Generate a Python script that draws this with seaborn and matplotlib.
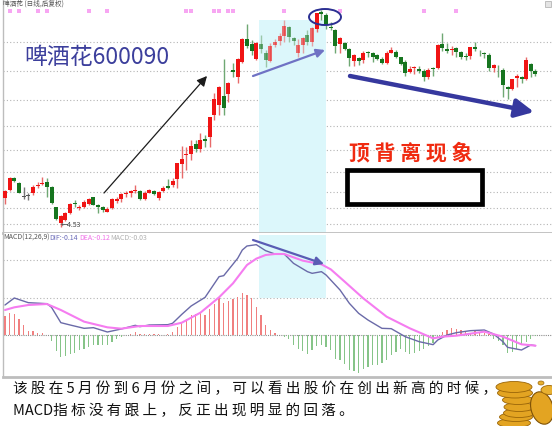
import numpy as np
import matplotlib
matplotlib.use("Agg")
import matplotlib.pyplot as plt
from matplotlib.patches import Ellipse, Rectangle, FancyArrowPatch
import seaborn as sns

# candle values, rows counted from the top of the panel (3 rows = 1 px)
body_top = [572, 533, 533, 548, 589, 586, 562, 555, 548, 545,
            560, 622, 648, 640, 613, 610, 620, 606, 598, 592,
            616, 621, 626, 598, 597, 583, 578, 574, 570, 573,
            578, 571, 573, 576, 564, 558, 543, 490, 477, 463,
            437, 433, 420, 418, 352, 298, 260, 288, 248, 211,
            177, 118, 118, 132, 128, 133, 158, 138, 125, 107,
            78, 80, 115, 135, 113, 105, 85, 40, 35, 45,
            80, 90, 115, 130, 147, 165, 175, 160, 156, 160,
            165, 176, 158, 151, 157, 172, 185, 208, 200, 208,
            212, 210, 204, 135, 133, 148, 147, 145, 155, 167,
            142, 140, 155, 159, 165, 196, 197, 210, 260, 238,
            228, 230, 180, 192, 212]
body_bottom = [595, 570, 543, 578, 592, 589, 578, 558, 551, 560,
               610, 658, 668, 660, 640, 613, 623, 622, 612, 614,
               621, 630, 635, 625, 604, 597, 582, 578, 572, 596,
               597, 578, 582, 594, 572, 563, 555, 538, 492, 466,
               462, 447, 447, 423, 412, 345, 315, 325, 282, 216,
               230, 185, 138, 153, 178, 148, 180, 183, 135, 122,
               107, 112, 122, 158, 135, 125, 125, 88, 43, 75,
               85, 138, 132, 146, 175, 183, 182, 180, 159, 172,
               176, 190, 188, 158, 172, 192, 218, 216, 205, 213,
               230, 232, 208, 203, 143, 152, 150, 157, 170, 172,
               168, 148, 157, 163, 203, 205, 199, 255, 268, 266,
               235, 237, 237, 213, 222]
wick_high = [570, 530, 530, 545, 562, 578, 555, 545, 530, 535,
             558, 620, 645, 636, 610, 600, 616, 600, 595, 590,
             612, 618, 622, 595, 590, 578, 572, 570, 555, 570,
             574, 568, 570, 572, 558, 537, 535, 488, 437, 440,
             420, 420, 400, 405, 350, 280, 258, 178, 245, 190,
             175, 115, 72, 120, 125, 105, 150, 130, 118, 100,
             60, 78, 112, 118, 110, 90, 82, 38, 30, 40,
             65, 88, 112, 125, 145, 162, 172, 152, 152, 155,
             162, 172, 153, 142, 150, 170, 180, 197, 197, 197,
             207, 205, 202, 133, 100, 128, 138, 140, 152, 160,
             140, 126, 150, 155, 160, 192, 195, 205, 258, 236,
             222, 228, 170, 190, 208]
wick_low = [612, 572, 545, 580, 597, 600, 585, 565, 556, 590,
            612, 660, 680, 662, 642, 622, 630, 625, 614, 616,
            640, 635, 637, 628, 608, 605, 590, 590, 578, 600,
            600, 580, 584, 600, 576, 566, 560, 565, 535, 510,
            480, 457, 455, 440, 440, 360, 345, 345, 305, 230,
            250, 190, 145, 165, 180, 160, 200, 185, 140, 135,
            125, 125, 135, 170, 160, 135, 138, 95, 60, 88,
            90, 160, 160, 150, 198, 197, 195, 190, 172, 185,
            180, 193, 192, 160, 175, 195, 228, 220, 222, 220,
            242, 238, 228, 208, 152, 158, 165, 170, 178, 180,
            178, 152, 168, 175, 212, 216, 232, 292, 298, 270,
            262, 248, 240, 230, 228]
candle_kind = ("rrggkkrrrg" "ggrrrgrrrg" "ggrrrrrrrg" "rrgrrgrrrr" "rgrgrrrgrg" "rrggrggrrr"
               "rggrrgrrgg" "ggrggrgrgg" "ggrrgggrrg" "grgrggrggg" "rggggrgggr" "rgrgg")
price_grid = [127, 213, 300, 378, 450, 515, 575, 625, 672]
signal_marks = [1, 3, 7, 9, 18, 22, 39, 40, 45, 46, 48, 49, 60, 72, 90, 97]

macd_hist = [58, 68, 65, 48, 30, 14, 12, 8, 6, 1,
             -18, -48, -65, -62, -55, -52, -45, -40, -35, -30,
             -28, -30, -28, -20, -12, -4, 0, 4, 10, 4,
             3, 4, 4, 3, 2, 4, 10, 25, 40, 50,
             60, 65, 68, 60, 78, 95, 115, 97, 103, 108,
             115, 127, 120, 112, 85, 62, 30, 15, 6, 1,
             -4, -12, -28, -42, -47, -57, -45, -33, -28, -35,
             -45, -70, -75, -85, -103, -108, -112, -100, -95, -90,
             -88, -82, -75, -58, -50, -42, -50, -55, -52, -48,
             -40, -32, -22, -5, 10, 17, 22, 20, 15, 10,
             6, 12, 10, 7, 4, -12, -18, -30, -52, -50,
             -42, -25, -20, -10, -3]
dif_idx = [0, 2, 5, 9, 10, 12, 14, 17, 19, 22, 25, 28, 29, 31, 35, 36, 38, 40, 43, 46,
           47, 50, 51, 52, 54, 56, 58, 60, 62, 65, 66, 68, 69, 72, 74, 76, 78, 81, 83, 86,
           89, 92, 93, 95, 97, 100, 103, 105, 107, 108, 111, 113, 114]
dif_val = [91, 112, 98, 95, 84, 38, 31, 21, 23, 10, 19, 30, 26, 31, 32, 36, 63, 88, 114, 176,
           179, 231, 256, 268, 272, 254, 244, 244, 216, 191, 186, 191, 181, 136, 96, 66, 46, 21, 20, -4,
           -19, -28, -14, 1, 8, 14, 16, 4, -19, -36, -44, -29, -31]
dea_idx = [0, 2, 5, 9, 12, 17, 22, 25, 29, 35, 38, 42, 46, 49, 52, 54, 56, 58,
           60, 64, 68, 70, 73, 77, 82, 87, 92, 94, 97, 103, 107, 111, 114]
dea_val = [76, 84, 91, 94, 76, 41, 24, 20, 28, 28, 38, 68, 114, 156, 211, 230, 241, 244,
           244, 224, 213, 198, 161, 111, 56, 21, -9, -4, -1, 11, -4, -27, -31]
macd_grid = [226, 111]

title_text = "啤酒花 (日线,后复权)"
name_text = "啤酒花600090"
label_text = "顶 背 离 现 象"
caption_1 = "该股在5月份到6月份之间，可以看出股价在创出新高的时候，"
caption_2 = "指标没有跟上，反正出现明显的回落。"

W, H = 552, 426
sns.set_theme(style="white")
plt.rcParams["font.family"] = ["Noto Sans CJK SC", "DejaVu Sans"]

fig = plt.figure(figsize=(W / 100, H / 100), dpi=100, facecolor="white")


def panel(left, top, right, bottom):
    return fig.add_axes([left / W, 1 - bottom / H, (right - left) / W, (bottom - top) / H])


idx = np.arange(len(body_top))
xlim = (-0.43, 117.55)
GRID = "#b4b4b4"
EDGE = "#bdbdbd"

# --- price panel ---
ax = panel(3, 0, 552, 233)
ax.set_xlim(*xlim)
ax.set_ylim(699, 0)
for row in price_grid:
    ax.axhline(row, color=GRID, lw=0.8, ls=(0, (1, 2)), zorder=1)
ax.add_patch(Rectangle((54.65, 60), 14.35, 639, color="#dcf7fb", lw=0, zorder=2))

colours = {"r": "#f01414", "g": "#16751f", "k": "#555555"}
wick_colours = {"r": "#e86a6a", "g": "#6fa873", "k": "#777777"}
for i in idx:
    kind = candle_kind[i]
    faded = 55 <= i <= 66
    alpha = 0.6 if faded else 1
    ax.vlines(i, wick_high[i], wick_low[i], color=wick_colours[kind], lw=1, alpha=alpha, zorder=3)
    ax.bar(i, body_bottom[i] - body_top[i], bottom=body_top[i], width=0.86,
           color=colours[kind], lw=0, alpha=alpha, zorder=4)
ax.scatter(signal_marks, [33] * len(signal_marks), marker="s", s=5, color="#f7a6f2", lw=0, zorder=5)

# --- MACD panel ---
ax2 = panel(3, 233, 552, 377)
ax2.set_xlim(*xlim)
ax2.set_ylim(-125, 307)
for val in macd_grid:
    ax2.axhline(val, color=GRID, lw=0.8, ls=(0, (1, 2)), zorder=1)
ax2.axhline(0, color="#8c8c8c", lw=0.8, ls=(0, (1, 1)), zorder=1)
ax2.add_patch(Rectangle((54.65, 111), 14.35, 190, color="#dcf7fb", lw=0, zorder=2))
hist = np.array(macd_hist)
ax2.bar(idx, hist, width=0.27, color=np.where(hist >= 0, "#f07f7f", "#86c488"), lw=0, zorder=3)
sns.lineplot(x=dif_idx, y=dif_val, color="#6a6aa8", linewidth=1, ax=ax2, zorder=4)
sns.lineplot(x=dea_idx, y=dea_val, color="#f57cf0", linewidth=1.5, ax=ax2, zorder=5)

for a in (ax, ax2):
    a.set_xticks([])
    a.set_yticks([])
    a.set_xlabel("")
    a.set_ylabel("")
    for side in ("top", "right"):
        a.spines[side].set_visible(False)
    a.spines["left"].set_color(EDGE)
    a.spines["bottom"].set_color(EDGE)
    a.spines["left"].set_linewidth(1)
    a.spines["bottom"].set_linewidth(2)

# --- annotations, in picture pixels ---
over = fig.add_axes([0, 0, 1, 1], zorder=10)
over.set_xlim(0, W)
over.set_ylim(H, 0)
over.axis("off")
over.patch.set_alpha(0)

over.text(3, 4, title_text, fontsize=4.8, color="#555555", va="center")
over.text(24, 58, name_text, fontsize=16.5, color="#3c3f9c", va="center")
over.text(61, 225, "←4.53", fontsize=5, color="#444444", va="center")
over.text(411, 153, label_text, fontsize=15, color="#f02a10", weight="bold", ha="center", va="center")

over.text(3, 238, "MACD(12,26,9)", fontsize=5, color="#555555", va="center")
over.text(49, 238, "DIF:-0.14", fontsize=5, color="#6a6ab8", va="center")
over.text(79, 238, "DEA:-0.12", fontsize=5, color="#f070e8", va="center")
over.text(110, 238, "MACD:-0.03", fontsize=5, color="#b0b0b0", va="center")

over.text(13, 389, " ".join(caption_1), fontsize=10.5, color="#111111", va="center")
over.text(13, 411, "MACD" + " ".join(caption_2), fontsize=10.5, color="#111111", va="center")


def arrow(start, end, colour, width, head):
    over.add_patch(FancyArrowPatch(start, end, arrowstyle=f"-|>,head_length={head},head_width={head * 0.5}",
                                   mutation_scale=1, color=colour, lw=width, shrinkA=0, shrinkB=0))


arrow((104, 193), (207, 76), "#1c1c1c", 0.9, 6)
arrow((253, 76), (325, 50), "#6f72c4", 1.6, 5)
arrow((350, 76), (534, 112), "#36389e", 3.2, 11)
arrow((253, 240), (324, 264), "#5a5cb4", 1.6, 5)
over.add_patch(Ellipse((325, 17), 32, 16, fill=False, ec="#2b2f92", lw=1.4))
over.add_patch(Rectangle((346.5, 169.5), 135, 34, fc="white", ec="black", lw=3.4))
over.add_patch(Rectangle((545, 1), 6, 6, fc="#e4e4e4", ec="#aaaaaa", lw=0.5))

# coin stack at the bottom right
for cx, cy, w, h in [(514, 423, 33, 9), (516, 417, 33, 9), (519, 413, 31, 9), (519, 407, 30, 9),
                     (518, 400, 31, 9), (515, 393, 35, 10), (514, 387, 36, 11)]:
    over.add_patch(Ellipse((cx, cy), w, h, fc="#e3a422", ec="#9a6508", lw=0.6))
over.add_patch(Ellipse((542, 408), 22, 33, angle=-15, fc="#e3a422", ec="#7f5206", lw=0.8))
over.add_patch(Ellipse((549, 390), 16, 9, fc="#e8b030", ec="#9a6508", lw=0.6))
over.add_patch(Ellipse((541, 383), 6, 4, fc="#e8b030", ec="#9a6508", lw=0.5))

fig.savefig("out.png", dpi=100)
